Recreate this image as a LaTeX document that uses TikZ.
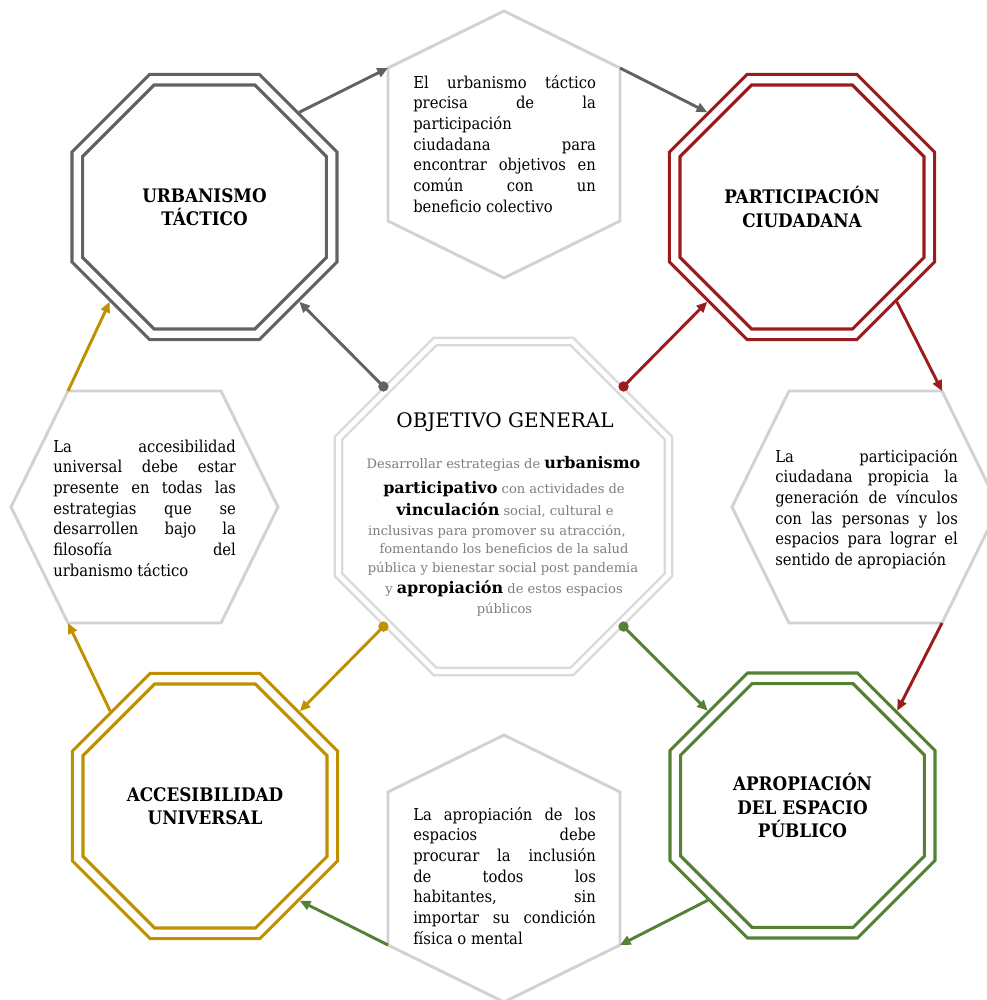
\documentclass[tikz,border=0pt]{standalone}
\usepackage{fontspec}
\setmainfont{DejaVu Serif}
\newfontfamily\narrowserif{DejaVu Serif}[FakeStretch=0.9]
\usetikzlibrary{shapes.geometric,arrows.meta}
\definecolor{cgray}{RGB}{98,98,98}
\definecolor{cred}{RGB}{155,28,28}
\definecolor{cgold}{RGB}{191,144,0}
\definecolor{cgreen}{RGB}{84,130,53}
\definecolor{chex}{RGB}{210,210,210}
\definecolor{cmid}{RGB}{218,218,218}
\definecolor{ctext}{RGB}{125,125,125}
\newcommand\ogbold[1]{{\fontsize{12}{14}\selectfont\bfseries\color{black}#1}}
\begin{document}
\begin{tikzpicture}[x=0.75pt,y=-0.75pt,
  octa/.style={regular polygon, regular polygon sides=8, minimum size=206.6pt,
    inner sep=0pt, outer sep=5.1pt, draw=#1, line width=2.4pt, double=white,
    double distance=5.5pt, font=\narrowserif\bfseries\fontsize{14}{17.4}\selectfont,
    align=center, text=black},
  midocta/.style={regular polygon, regular polygon sides=8, minimum size=267.9pt,
    inner sep=0pt, outer sep=3.6pt, draw=cmid, line width=1.9pt, double=white,
    double distance=3.4pt},
  hexline/.style={draw=chex, line width=2.2pt, line join=miter},
  hextext/.style={text width=137pt, align=justify, inner sep=0pt, anchor=north west,
    font=\narrowserif\fontsize{12.3}{15.5}\selectfont, text=black},
  conn/.style={draw=#1, line width=2.2pt, -{Triangle[length=8pt,width=7pt]}},
  ogline/.style={anchor=base, inner sep=0pt, text=ctext, font=\fontsize{9.8}{12}\selectfont},
]
\path[use as bounding box] (0,0) rectangle (987,1000);
\clip (0,0) rectangle (987,1000);

% hexagons
\coordinate (th-tl) at (388,68);
\coordinate (th-tr) at (620,68);
\draw[hexline] (504,11) -- (th-tr) -- (620,221) -- (504,278) -- (388,221) -- (th-tl) -- cycle;
\coordinate (rh-tr) at (942,391);
\coordinate (rh-br) at (942,623);
\draw[hexline] (732,507) -- (789,391) -- (rh-tr) -- (999,507) -- (rh-br) -- (789,623) -- cycle;
\coordinate (bh-br) at (620,945);
\coordinate (bh-bl) at (388,945);
\draw[hexline] (504,735) -- (620,792) -- (bh-br) -- (504,1002) -- (bh-bl) -- (388,792) -- cycle;
\coordinate (lh-tl) at (68,391);
\coordinate (lh-bl) at (68,623);
\draw[hexline] (11,507) -- (lh-tl) -- (221,391) -- (278,507) -- (221,623) -- (lh-bl) -- cycle;

% hexagon texts
\node[hextext] (ttop) at (413,73.5) {\strut El~urbanismo~táctico\linebreak
 precisa~de~la\linebreak participación\linebreak ciudadana~para\linebreak
 encontrar~objetivos~en\linebreak común~con~un\linebreak beneficio~colectivo};
\node[hextext] (tleft) at (53,437.5) {\strut La~accesibilidad\linebreak
 universal~debe~estar\linebreak presente~en~todas~las\linebreak estrategias~que~se\linebreak
 desarrollen~bajo~la\linebreak filosofía~del\linebreak urbanismo~táctico};
\node[hextext] (tright) at (775,447.5) {\strut La~participación\linebreak
 ciudadana~propicia~la\linebreak generación~de~vínculos\linebreak con~las~personas~y~los\linebreak
 espacios~para~lograr~el\linebreak sentido~de~apropiación};
\node[hextext] (tbottom) at (413,805.5) {\strut La~apropiación~de~los\linebreak
 espacios~debe\linebreak procurar~la~inclusión\linebreak de~todos~los\linebreak
 habitantes,~sin\linebreak importar~su~condición\linebreak física~o~mental};

% central octagon
\node[midocta] (og) at (503.5,506.5) {};
\node[anchor=base, inner sep=0pt, font=\fontsize{15}{18}\selectfont] (ogt) at (505,427) {OBJETIVO GENERAL};
\node[ogline] (og1) at (503.5,468) {Desarrollar estrategias de \ogbold{urbanismo}};
\node[ogline] (og2) at (504,493) {\ogbold{participativo} con actividades de};
\node[ogline] (og3) at (505,515) {\ogbold{vinculación} social, cultural e};
\node[ogline] (og4) at (497,535) {inclusivas para promover su atracción,};
\node[ogline] (og5) at (504,553) {fomentando los beneficios de la salud};
\node[ogline] (og6) at (503,572) {pública y bienestar social post pandemia};
\node[ogline] (og7) at (504,593) {y \ogbold{apropiación} de estos espacios};
\node[ogline] (og8) at (504.5,613) {públicos};

% corner octagons
\node[octa=cgray] (tl) at (204.5,207) {URBANISMO\\TÁCTICO};
\node[octa=cred] (tr) at (802,207) {PARTICIPACIÓN\\CIUDADANA};
\node[octa=cgold] (bl) at (205,806) {ACCESIBILIDAD\\UNIVERSAL};
\node[octa=cgreen] (br) at (802.5,805.5) {APROPIACIÓN\\DEL ESPACIO\\PÚBLICO};

% outer cycle connectors
\draw[conn=cgray] (tl.45) -- (th-tl);
\draw[conn=cgray] (th-tr) -- (tr.135);
\draw[conn=cred] (tr.-45) -- (rh-tr);
\draw[conn=cred] (rh-br) -- (br.45);
\draw[conn=cgreen] (br.-135) -- (bh-br);
\draw[conn=cgreen] (bh-bl) -- (bl.-45);
\draw[conn=cgold] (bl.135) -- (lh-bl);
\draw[conn=cgold] (lh-tl) -- (tl.-135);

% central connectors
\draw[conn=cgray] (og.135) -- (tl.-45);
\draw[conn=cred] (og.45) -- (tr.-135);
\draw[conn=cgold] (og.-135) -- (bl.45);
\draw[conn=cgreen] (og.-45) -- (br.135);
\fill[cgray] (og.135) circle[radius=5.2];
\fill[cred] (og.45) circle[radius=5.2];
\fill[cgold] (og.-135) circle[radius=5.2];
\fill[cgreen] (og.-45) circle[radius=5.2];
\end{tikzpicture}
\end{document}
